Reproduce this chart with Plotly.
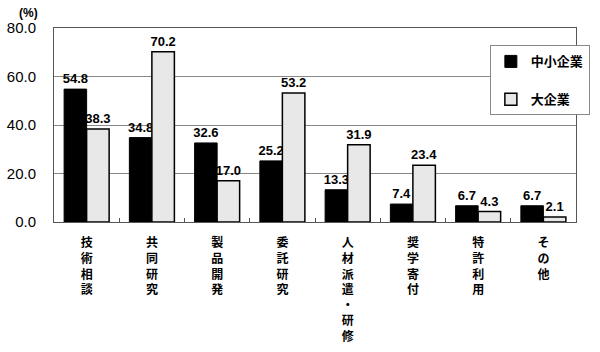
import plotly.graph_objects as go

categories = ["技術相談", "共同研究", "製品開発", "委託研究", "人材派遣・研修", "奨学寄付", "特許利用", "その他"]
sme = [54.8, 34.8, 32.6, 25.2, 13.3, 7.4, 6.7, 6.7]
large = [38.3, 70.2, 17.0, 53.2, 31.9, 23.4, 4.3, 2.1]
series_names = ["中小企業", "大企業"]

tick_text = ["<b>" + "<br>".join(list(c)) + "</b>" for c in categories]

fig = go.Figure()
fig.add_trace(go.Bar(
    x=categories, y=sme, name="<b>" + series_names[0] + "</b>", legendgroup="a",
    marker=dict(color="black", line=dict(color="black", width=1)),
    text=[f"<b>{v:.1f}</b>" for v in sme], textposition="outside",
    textfont=dict(size=13, color="black", family="Liberation Sans"),
    cliponaxis=False, constraintext="none",
))
fig.add_trace(go.Bar(
    x=categories, y=large, name="<b>" + series_names[1] + "</b>", legendgroup="b",
    marker=dict(color="#e8e8e8", line=dict(color="black", width=1.5)),
    text=[f"<b>{v:.1f}</b>" for v in large], textposition="outside",
    textfont=dict(size=13, color="black", family="Liberation Sans"),
    cliponaxis=False, constraintext="none",
))

fig.update_layout(
    width=600, height=352,
    margin=dict(l=54, r=10, t=28, b=130),
    paper_bgcolor="white", plot_bgcolor="white",
    barmode="group", bargap=0.31, bargroupgap=0,
    font=dict(family="Noto Sans CJK JP", color="black"),
    showlegend=True,
    legend=dict(
        x=0.835, y=0.91, xanchor="left", yanchor="top",
        bgcolor="white", bordercolor="#888888", borderwidth=1,
        font=dict(size=13, family="Noto Sans CJK JP"),
        itemwidth=30, tracegroupgap=18,
        traceorder="grouped",
    ),
    annotations=[dict(
        text="<b>(%)</b>", x=-0.07, y=1.03, xref="paper", yref="paper",
        xanchor="left", yanchor="bottom", showarrow=False,
        font=dict(size=12, family="Liberation Sans", color="black"),
    )],
)
fig.update_xaxes(
    tickmode="array", tickvals=categories, ticktext=tick_text,
    tickfont=dict(size=12, family="Noto Sans CJK JP", color="black"),
    showline=True, linecolor="#555555", mirror=True, linewidth=1,
    ticks="inside", ticklen=4, tickcolor="#555555", tickson="boundaries",
    showgrid=False, ticklabelstandoff=10, automargin=False,
)
fig.update_yaxes(
    range=[0, 80], dtick=20, tickformat=".1f",
    tickfont=dict(size=15, family="Liberation Sans", color="black"),
    showgrid=True, gridcolor="#888888", gridwidth=1,
    showline=True, linecolor="#555555", mirror=True, linewidth=1,
    zeroline=False, ticks="", ticklabelstandoff=14, automargin=False,
)

fig.write_html("out.html")
